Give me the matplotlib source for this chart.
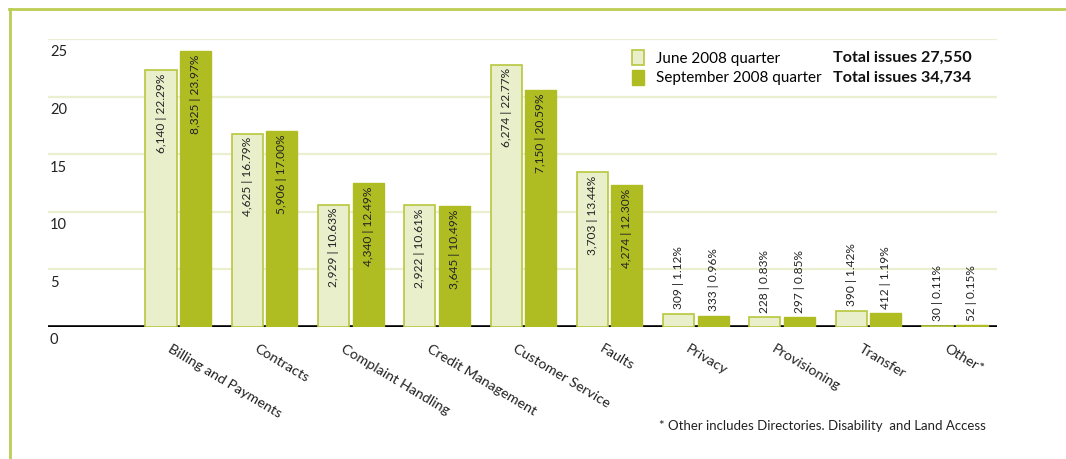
import numpy as np
import matplotlib
matplotlib.use('Agg')
import matplotlib.pyplot as plt
from matplotlib.patches import Patch
from matplotlib.lines import Line2D

plt.rcParams['font.family'] = ['Lato', 'DejaVu Sans']

categories = ['Billing and Payments', 'Contracts', 'Complaint Handling', 'Credit Management',
              'Customer Service', 'Faults', 'Privacy', 'Provisioning', 'Transfer', 'Other*']
june_n = [6140, 4625, 2929, 2922, 6274, 3703, 309, 228, 390, 30]
june_pct = [22.29, 16.79, 10.63, 10.61, 22.77, 13.44, 1.12, 0.83, 1.42, 0.11]
sept_n = [8325, 5906, 4340, 3645, 7150, 4274, 333, 297, 412, 52]
sept_pct = [23.97, 17.00, 12.49, 10.49, 20.59, 12.30, 0.96, 0.85, 1.19, 0.15]
series = ['June 2008 quarter', 'September 2008 quarter']
totals = ['Total issues 27,550', 'Total issues 34,734']
yticks = [0, 5, 10, 15, 20, 25]
footnote = '* Other includes Directories. Disability  and Land Access'

light = '#e9eecb'
light_edge = '#b7c73e'
dark = '#afbd22'
grid_col = '#eaf0cf'
frame_col = '#bccd55'

fig = plt.figure(figsize=(10.66, 4.59), dpi=100)
ax = fig.add_axes([48 / 1066, 1 - 327 / 459, (997 - 48) / 1066, (327 - 39) / 459])

x = np.arange(len(categories))
w = 0.36
off = 0.2

for y in yticks[1:]:
    ax.axhline(y, color=grid_col, lw=1.6, zorder=0)
ax.axhline(0, color='black', lw=2.6, zorder=1)

b1 = ax.bar(x - off, june_pct, w, color=light, edgecolor=light_edge, linewidth=1.2, zorder=2)
b2 = ax.bar(x + off, sept_pct, w, color=dark, edgecolor=dark, linewidth=1.0, zorder=2)

def annotate(xs, ns, ps):
    for xi, n, p in zip(xs, ns, ps):
        txt = f'{n:,} | {p:.2f}%'
        if p > 5:
            ax.text(xi, p - 0.3, txt, rotation=90, ha='center', va='top',
                    fontsize=8.6, color='#222222', zorder=3)
        else:
            ax.text(xi, p + 0.4, txt, rotation=90, ha='center', va='bottom',
                    fontsize=8.6, color='#222222', zorder=3)

annotate(x - off, june_n, june_pct)
annotate(x + off, sept_n, sept_pct)

ax.set_xlim(-1.51, 9.49)
ax.set_ylim(0, 25)
for s in ax.spines.values():
    s.set_visible(False)
ax.set_yticks([])
for y in yticks:
    ax.text(0.002, y - 0.55, str(y), transform=ax.get_yaxis_transform(),
            ha='left', va='top', fontsize=10.5, color='#222222')

ax.set_xticks(x - 0.07)
ax.set_xticklabels(categories, rotation=-31, ha='left', rotation_mode='anchor',
                   fontsize=10.3, color='#222222')
ax.tick_params(axis='x', length=0, pad=11)

handles = [Patch(facecolor=light, edgecolor=light_edge, linewidth=1.2),
           Patch(facecolor=dark, edgecolor=dark)]
leg = fig.legend(handles, series, loc='upper left', bbox_to_anchor=(632 / 1066, 1 - 50 / 459),
                 frameon=False, fontsize=11, handlelength=0.8, handleheight=1.15,
                 handletextpad=0.75, labelspacing=0.25, borderpad=0, borderaxespad=0)
for i, t in enumerate(totals):
    fig.text(833 / 1066, 1 - (58 + 20 * i) / 459, t, ha='left', va='center',
             fontsize=11.6, fontweight='bold', color='#111111')

fig.text(659 / 1066, 1 - 426 / 459, footnote, ha='left', va='center', fontsize=9.5, color='#222222')

fig.add_artist(Line2D([10 / 1066, 10 / 1066], [0, 1 - 9 / 459], color=frame_col, lw=2))
fig.add_artist(Line2D([9 / 1066, 1], [1 - 9 / 459, 1 - 9 / 459], color=frame_col, lw=2))

fig.savefig('out.png', dpi=100)
